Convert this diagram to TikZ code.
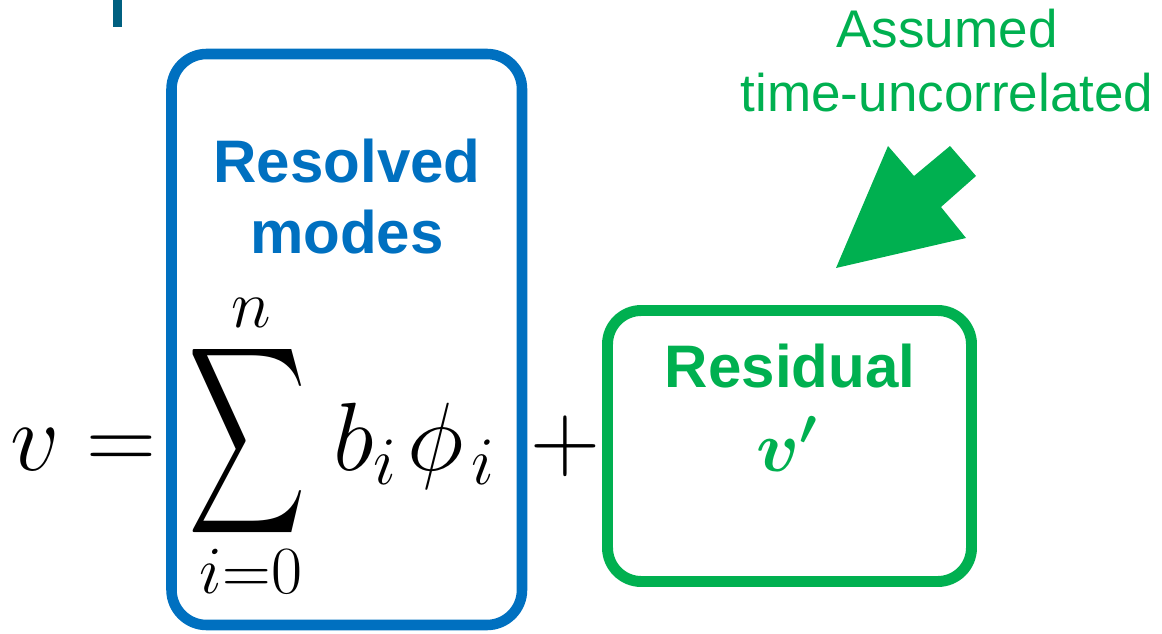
\RequirePackage{fix-cm}
\documentclass[tikz,border=0pt]{standalone}
\usepackage{amsmath}
\usepackage{fontspec}
\setsansfont{Liberation Sans}
\usetikzlibrary{positioning}

\definecolor{modeblue}{RGB}{0,112,192}
\definecolor{residgreen}{RGB}{0,176,80}
\definecolor{titleteal}{RGB}{0,96,128}

\begin{document}
\begin{tikzpicture}[x=0.025cm, y=0.025cm,
    eqn/.style={inner sep=0pt, anchor=base, font=\fontsize{69}{80}\selectfont},
    limit/.style={inner sep=0pt, anchor=base, font=\fontsize{48}{56}\selectfont},
    bluelabel/.style={inner sep=0pt, anchor=base, text=modeblue,
        font=\sffamily\bfseries\fontsize{42.7}{50}\selectfont},
    greenlabel/.style={inner sep=0pt, anchor=base, text=residgreen,
        font=\sffamily\bfseries\fontsize{42.7}{50}\selectfont},
    note/.style={inner sep=0pt, anchor=base, text=residgreen,
        font=\sffamily\fontsize{37.7}{45}\selectfont}]
        \useasboundingbox (0,0) rectangle (1162,633);

        % bit of the slide title
        \fill[titleteal] (112.7,606.3) rectangle (121.7,633);

        % the two boxes
        \draw[modeblue, line width=7.5pt, rounded corners=25pt] (171.5,8) rectangle (522,579);
        \draw[residgreen, line width=7.8pt, rounded corners=24pt] (607.5,51.5) rectangle (971.5,322.5);

        \node[bluelabel] (resolved) at (347,450) {Resolved};
        \node[bluelabel] (modes) at (347,379) {modes};
        \node[greenlabel] (residual) at (790,246) {Residual};
        \node[inner sep=0pt, anchor=base, text=residgreen, font=\fontsize{51}{60}\selectfont]
            (vprime) at (787,162) {$\boldsymbol{v'}$};

        % the sum
        \node[eqn, anchor=base west] (lhs) at (10,163) {$v =$};
        \node[inner sep=0pt, font=\fontsize{10}{12}\selectfont] (sum) at (247,191.5)
            {\scalebox{5.8}[9.3]{$\displaystyle\sum$}};
        \node[limit] (upper) at (251,306) {$n$};
        \node[limit] (lower) at (251,40) {$i{=}0$};
        \node[eqn, anchor=base west] (terms) at (333,163) {$b_i\mkern2mu\phi_{\mkern2mu i}$};
        \node[eqn] (plus) at (565,163) {$+$};

        \node[note] (assumed) at (947,585) {Assumed};
        \node[note] (uncorr) at (947,521) {time-uncorrelated};

        \fill[residgreen] (836,365) -- (888,487) -- (914,457) -- (950,487)
            -- (976,457) -- (941,426) -- (966,395) -- cycle;
    \end{tikzpicture}
\end{document}
